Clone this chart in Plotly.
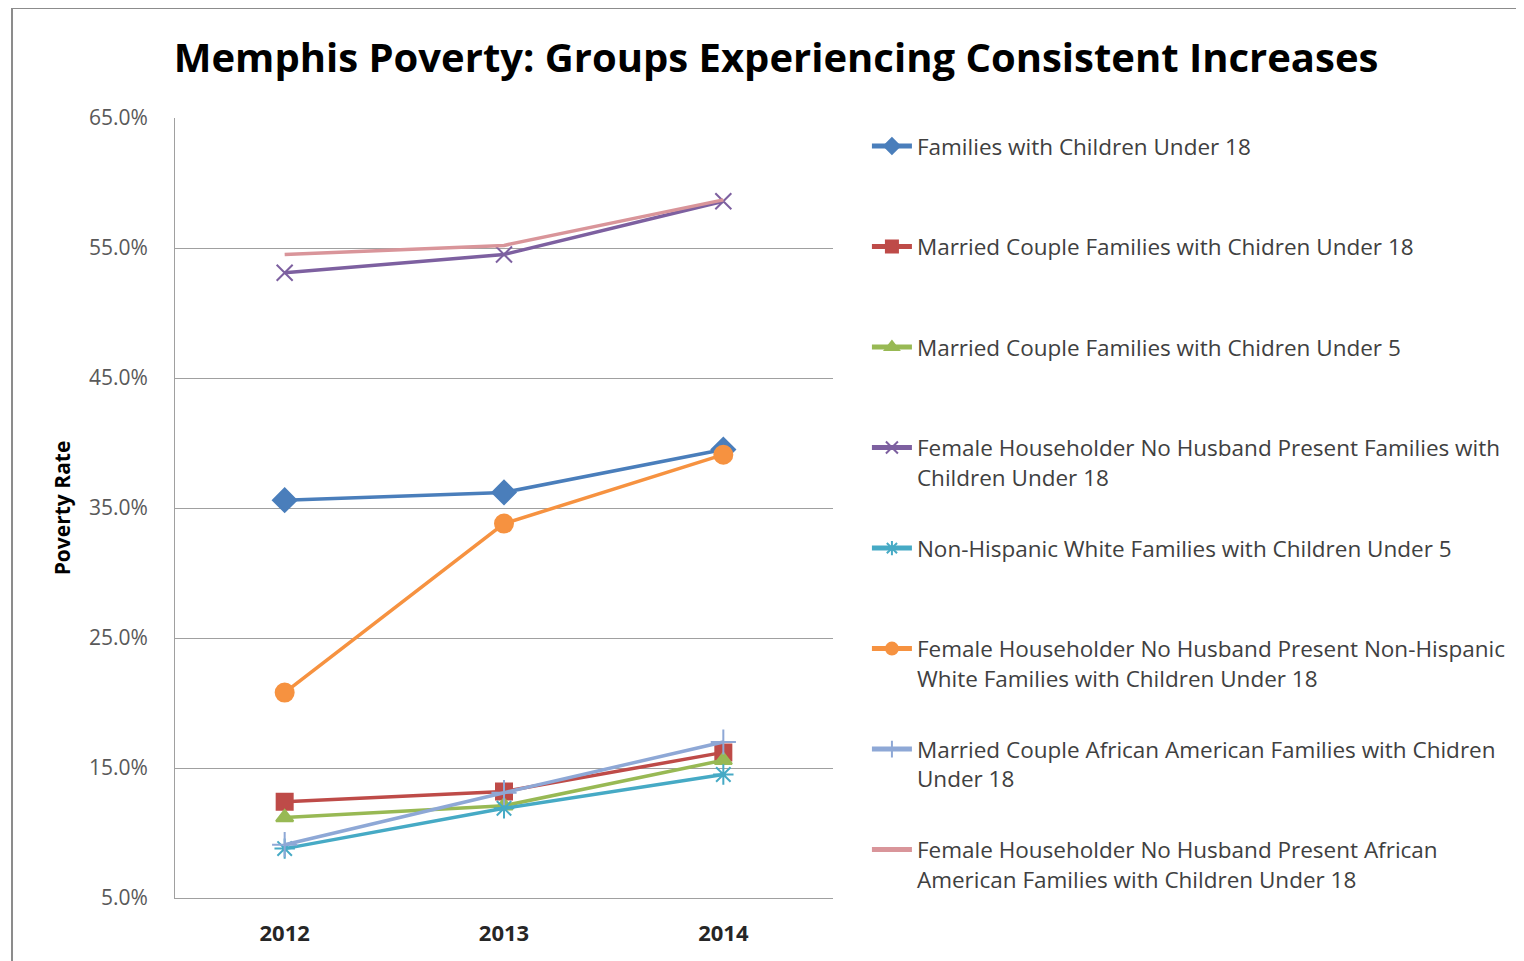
"""Memphis poverty line chart: groups with consistent increases, 2012-2014."""

import plotly.graph_objects as go

years = ["2012", "2013", "2014"]

families_u18 = [35.6, 36.2, 39.5]
married_u18 = [12.4, 13.2, 16.2]
married_u5 = [11.2, 12.1, 15.6]
female_hh_u18 = [53.1, 54.5, 58.6]
nh_white_u5 = [8.8, 11.9, 14.5]
female_hh_nh_white_u18 = [20.8, 33.8, 39.1]
married_aa_u18 = [9.1, 13.1, 17.0]
female_hh_aa_u18 = [54.5, 55.2, 58.7]

y_ticks = [5, 15, 25, 35, 45, 55, 65]
y_tick_labels = [f"{v:.1f}%" for v in y_ticks]

# name, values, line colour, marker symbol, marker size
series = [
    ("Families with Children Under 18<br> ", families_u18, "#4A7EBB", "diamond", 18),
    ("Married Couple Families with Chidren Under 18<br> ", married_u18, "#BE4B48", "square", 16),
    ("Married Couple Families with Chidren Under 5<br> ", married_u5, "#98B954", "triangle-up", 15),
    ("Female Householder No Husband Present Families with<br>Children Under 18",
     female_hh_u18, "#7D60A0", "x-thin", 16),
    ("Non-Hispanic White Families with Children Under 5<br> ", nh_white_u5, "#46AAC5", "asterisk", 17),
    ("Female Householder No Husband Present Non-Hispanic<br>White Families with Children Under 18",
     female_hh_nh_white_u18, "#F69240", "circle", 18),
    ("Married Couple African American Families with Chidren<br>Under 18",
     married_aa_u18, "#8EA8D6", "cross-thin", 18),
    ("Female Householder No Husband Present African<br>American Families with Children Under 18",
     female_hh_aa_u18, "#D9959A", None, 0),
]

fig = go.Figure()

for i, (name, vals, color, symbol, size) in enumerate(series):
    if symbol is None:
        mode = "lines"
        marker = dict()
    else:
        mode = "lines+markers"
        marker = dict(symbol=symbol, size=size, color=color,
                      line=dict(color=color, width=2))
    fig.add_trace(go.Scatter(
        x=years, y=vals, name=name, mode=mode,
        line=dict(color=color, width=3.5),
        marker=marker,
        legendgroup=f"g{i}",
    ))

# grey frame around the whole chart area
fig.add_shape(type="rect", xref="paper", yref="paper",
              x0=-0.2477, x1=2.2, y0=-0.2, y1=1.141,
              line=dict(color="#8c8c8c", width=2), fillcolor="rgba(0,0,0,0)",
              layer="below")

fig.update_layout(
    width=1524,
    height=961,
    paper_bgcolor="white",
    plot_bgcolor="white",
    # page body adds 8px offset, so margins are shifted to compensate
    margin=dict(l=167, r=699, t=110, b=71, autoexpand=False),
    font=dict(family="Open Sans", color="#404040"),
    title=dict(
        text="<b>Memphis Poverty: Groups Experiencing Consistent Increases</b>",
        x=0.504, xanchor="center", y=0.948, yanchor="middle",
        font=dict(size=40, color="#000000", family="Open Sans"),
    ),
    xaxis=dict(
        type="category", range=[-0.5, 2.5],
        showgrid=False, showline=True, linecolor="#a0a0a0", linewidth=1,
        ticks="", ticklabelstandoff=16,
        tickfont=dict(size=22, color="#262626", family="Open Sans", weight="bold"),
        zeroline=False,
    ),
    yaxis=dict(
        range=[5, 65], tickvals=y_ticks, ticktext=y_tick_labels,
        showgrid=True, gridcolor="#a0a0a0", gridwidth=1,
        showline=True, linecolor="#a0a0a0", linewidth=1,
        ticks="", ticklabelstandoff=22, tickfont=dict(size=21, color="#595959"),
        zeroline=False,
        title=dict(text="<b>Poverty Rate</b>", font=dict(size=21, color="#000000"), standoff=12),
    ),
    legend=dict(
        xref="container", yref="container",
        x=0.5636, xanchor="left", y=0.8783, yanchor="top",
        maxheight=900,
        font=dict(size=22.5, color="#404040", family="Open Sans"),
        valign="top", tracegroupgap=39, itemwidth=40, itemsizing="constant",
        bgcolor="rgba(0,0,0,0)",
    ),
    showlegend=True,
)

fig.write_html("out.html")
